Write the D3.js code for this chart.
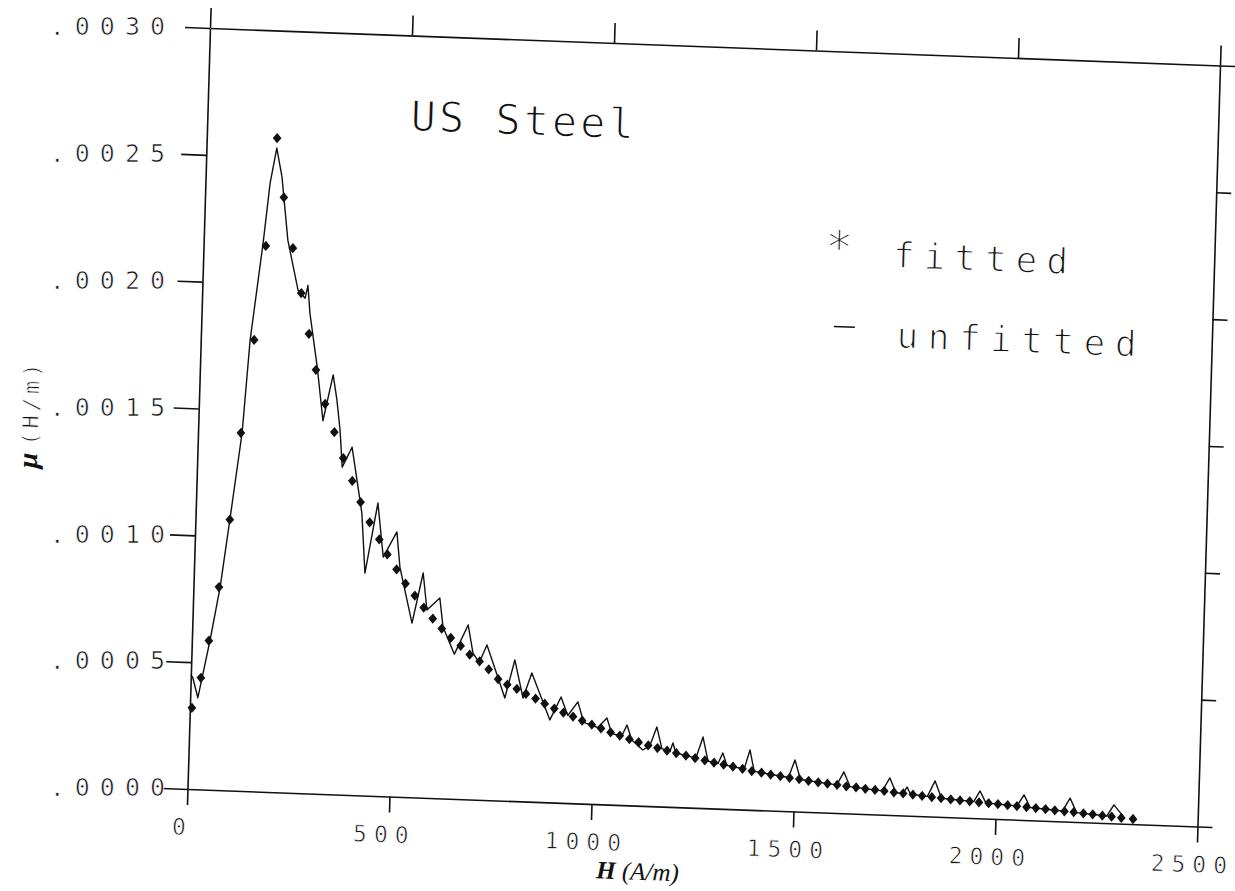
<!DOCTYPE html>
<html lang="en">
<head>
    <meta charset="UTF-8">
    <title>US Steel permeability</title>
    <script src="https://d3js.org/d3.v7.min.js"></script>
    <style>
        body { margin: 0; background: #fff; }
        .plot { font-family: "DejaVu Sans Mono", "Liberation Mono", monospace; fill: #111; stroke: #fff; stroke-width: 0.7px; }
        .plot.big { stroke-width: 1.3px; }
        .serif { font-family: "Liberation Serif", "DejaVu Serif", serif; fill: #111; }
    </style>
</head>
<body>
    <div id="chart"></div>

    <script>
        // fitted points (diamonds)
        const H_FIT = [5,25,42,63,85,106,132,154,174,195,221,245,267,287,312,337,361,385,407,431,
            456,477,501,524,548,571,594,617,640,665,688,713,736,760,783,807,830,854,877,901,
            924,948,971,995,1018,1042,1065,1089,1112,1136,1159,1183,1206,1230,1253,1277,1300,1324,1347,1371,
            1394,1418,1441,1465,1488,1512,1535,1559,1582,1606,1629,1653,1676,1700,1723,1747,1770,1794,1817,1841,
            1864,1888,1911,1935,1958,1982,2005,2029,2052,2076,2099,2123,2146,2170,2193,2217,2240,2264,2287,2311,2340];
        const MU_FIT = [0.00032,0.00044,0.000587,0.0008,0.001067,0.00141,0.001778,0.00215,0.002576,0.002344,
            0.002145,0.001969,0.00181,0.001669,0.001537,0.001427,0.001326,0.001237,0.001155,0.001077,
            0.001011,0.000953,0.000895,0.000841,0.000795,0.000749,0.000707,0.000669,0.000634,0.000604,
            0.00057,0.000545,0.000515,0.000478,0.000458,0.000442,0.000424,0.000407,0.000388,0.00037,
            0.000356,0.000341,0.000327,0.000313,0.000299,0.000285,0.000273,0.000261,0.00025,0.000239,
            0.00023,0.000221,0.000213,0.000204,0.000196,0.000188,0.000181,0.000174,0.000168,0.00016,
            0.000153,0.000148,0.000142,0.000137,0.000132,0.000128,0.000123,0.000118,0.000115,0.000111,
            0.000107,0.000104,0.0001,0.000097,0.000094,0.00009,0.000087,0.000084,0.00008,0.000077,
            0.000074,0.000071,0.000068,0.000066,0.000063,0.000061,0.000059,0.000056,0.000054,0.000051,
            0.000049,0.000046,0.000043,0.00004,0.000038,0.000035,0.000032,0.000029,0.000026,0.000023,0.00002];

        // unfitted measured curve
        const H_RAW = [0,5,19,28,45,66,85,109,122,147,160,174,189,208,237,255,261,268,290,308,
            330,341,351,359,382,411,423,450,467,499,509,543,567,579,610,620,650,682,696,712,
            730,778,800,823,843,891,917,935,959,975,1010,1032,1045,1070,1082,1095,1123,1140,1156,1170,
            1190,1197,1205,1255,1271,1285,1310,1321,1332,1375,1388,1400,1485,1500,1515,1605,1622,1638,1718,1736,
            1752,1770,1779,1788,1830,1848,1865,1945,1960,1975,2052,2069,2085,2165,2183,2200,2275,2292,2315];
        const MU_RAW = [0.00045,0.000439,0.000361,0.00044,0.00059,0.0008,0.001065,0.00141,0.001776,0.00216,
            0.002398,0.002537,0.002423,0.002176,0.00198,0.00195,0.002001,0.001891,0.00168,0.00147,
            0.001652,0.001554,0.001436,0.00129,0.00137,0.001112,0.000876,0.001154,0.000942,0.001043,
            0.000905,0.000686,0.000885,0.00074,0.000789,0.000675,0.00057,0.000687,0.000577,0.00054,
            0.000611,0.000405,0.000556,0.000407,0.000507,0.000325,0.000417,0.000345,0.0004,0.00032,
            0.000302,0.000341,0.00028,0.000272,0.000316,0.000258,0.00022,0.000238,0.000313,0.000228,
            0.000218,0.000252,0.000213,0.000196,0.00028,0.000186,0.000178,0.00022,0.000172,0.00016,
            0.000236,0.000152,0.000133,0.000203,0.000127,0.000111,0.000163,0.000106,0.000094,0.000146,
            0.000089,0.000087,0.000113,0.000085,0.000079,0.000141,0.000074,0.000065,0.000108,0.000062,
            0.000054,0.000099,0.00005,0.000041,0.000093,0.000037,0.000028,0.000073,0.00003];

        const X_TICKS = [0, 500, 1000, 1500, 2000, 2500];
        const Y_TICKS = [0, 0.0005, 0.001, 0.0015, 0.002, 0.0025, 0.003];
        const Y_LABELS = [".0000", ".0005", ".0010", ".0015", ".0020", ".0025", ".0030"];

        const W = 1010, H = 761;
        // the scanned page is slightly rotated: plot box mapped with an affine matrix
        const M = {a: 1, b: 0.0371, c: -0.0296, d: 1, e: 210, f: 28};
        const page = (u, v) => [M.e + M.a * u + M.c * v, M.f + M.b * u + M.d * v];

        const svg = d3.select("#chart").append("svg")
            .attr("width", 1235).attr("height", 891);
        svg.append("rect").attr("width", 1235).attr("height", 891).attr("fill", "#fff");

        const g = svg.append("g")
            .attr("transform", `matrix(${M.a},${M.b},${M.c},${M.d},${M.e},${M.f})`);

        const x = d3.scaleLinear().domain([0, 2500]).range([0, W]);
        const y = d3.scaleLinear().domain([0, 0.003]).range([H, 0]);

        function styleAxis(sel) {
            sel.selectAll("path, line").attr("stroke", "#111").attr("stroke-width", 1.6);
            sel.selectAll("text").remove();
        }

        g.append("g").attr("transform", `translate(0,${H})`)
            .call(d3.axisBottom(x).tickValues(X_TICKS).tickSize(16).tickSizeOuter(0))
            .call(styleAxis);
        g.append("g")
            .call(d3.axisTop(x).tickValues(X_TICKS).tickSize(20).tickSizeOuter(0))
            .call(styleAxis);
        g.append("g")
            .call(d3.axisLeft(y).tickValues(Y_TICKS).tickSize(25).tickSizeOuter(0))
            .call(styleAxis);
        g.append("g").attr("transform", `translate(${W},0)`)
            .call(d3.axisRight(y).tickValues(Y_TICKS).tickSize(15).tickSizeOuter(0))
            .call(styleAxis);

        // x tick labels (follow the rotated page)
        g.selectAll(".xlab").data(X_TICKS).enter().append("text")
            .attr("class", "plot")
            .attr("x", d => x(d) - 4).attr("y", H + 46)
            .attr("text-anchor", "middle")
            .attr("font-size", 23).attr("letter-spacing", 7)
            .text(d => d);

        // y tick labels (kept upright on the page)
        svg.selectAll(".ylab").data(Y_TICKS).enter().append("text")
            .attr("class", "plot")
            .attr("x", 175)
            .attr("y", d => page(-45, y(d))[1] + 9)
            .attr("text-anchor", "end")
            .attr("font-size", 25).attr("letter-spacing", 10)
            .text((d, i) => Y_LABELS[i]);

        // unfitted curve
        const raw = H_RAW.map((h, i) => [h, MU_RAW[i]]);
        g.append("path").datum(raw)
            .attr("fill", "none").attr("stroke", "#111").attr("stroke-width", 1.4)
            .attr("stroke-linejoin", "round")
            .attr("d", d3.line().x(d => x(d[0])).y(d => y(d[1])));

        // fitted points
        const fit = H_FIT.map((h, i) => [h, MU_FIT[i]]);
        g.selectAll(".pt").data(fit).enter().append("path")
            .attr("d", d3.symbol(d3.symbolDiamond, 42))
            .attr("fill", "#111")
            .attr("transform", d => `translate(${x(d[0])},${y(d[1])}) scale(1.25,0.85)`);

        // title and legend
        g.append("text").attr("class", "plot big")
            .attr("x", 203).attr("y", 95)
            .attr("font-size", 42).attr("letter-spacing", 3)
            .text("US Steel");
        g.append("text").attr("class", "plot big")
            .attr("x", 635).attr("y", 212)
            .attr("text-anchor", "middle")
            .attr("font-size", 46)
            .text("*");
        g.append("text").attr("class", "plot big")
            .attr("x", 689).attr("y", 214)
            .attr("font-size", 36).attr("letter-spacing", 9)
            .text("fitted");
        g.append("line")
            .attr("x1", 632).attr("x2", 653).attr("y1", 275).attr("y2", 275)
            .attr("stroke", "#111").attr("stroke-width", 1.6);
        g.append("text").attr("class", "plot big")
            .attr("x", 695).attr("y", 294)
            .attr("font-size", 36).attr("letter-spacing", 9.5)
            .text("unfitted");

        // axis titles
        const xt = g.append("text").attr("class", "serif")
            .attr("x", 452).attr("y", H + 74)
            .attr("text-anchor", "middle").attr("font-size", 25);
        xt.append("tspan").attr("font-weight", "bold").attr("font-style", "italic").text("H ");
        xt.append("tspan").attr("font-style", "italic").text("(A/m)");

        const yt = g.append("text")
            .attr("transform", "translate(-160,392) rotate(-90)")
            .attr("text-anchor", "middle");
        yt.append("tspan").attr("class", "serif").attr("font-size", 28)
            .attr("font-weight", "bold").attr("font-style", "italic").text("\u03bc  ");
        yt.append("tspan").attr("class", "plot").attr("font-size", 22)
            .attr("letter-spacing", 4).text("(H/m)");
    </script>
</body>
</html>
